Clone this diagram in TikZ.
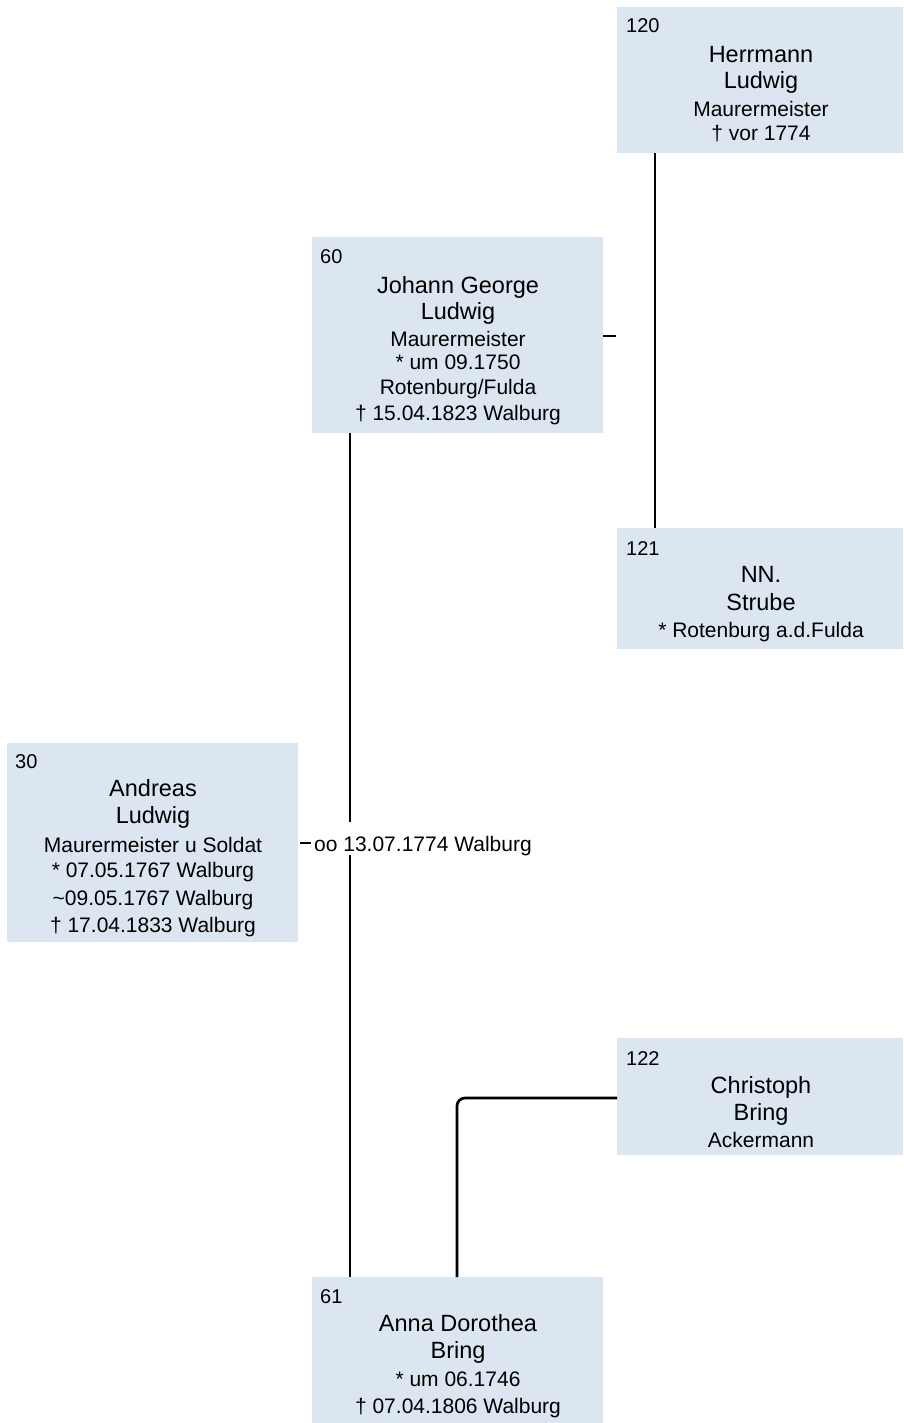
\documentclass[tikz,border=0pt]{standalone}
\usepackage{fontspec}
\setmainfont{Liberation Sans}
\definecolor{boxfill}{HTML}{DCE6F1}
\begin{document}
\begin{tikzpicture}[x=1pt,y=-1pt,
  pbox/.style={fill=boxfill,draw=none,inner sep=0pt,anchor=north west},
  nm/.style={font=\fontsize{23.5pt}{28pt}\selectfont,anchor=base,inner sep=0pt},
  dt/.style={font=\fontsize{21pt}{25pt}\selectfont,anchor=base,inner sep=0pt},
  nr/.style={font=\fontsize{20pt}{24pt}\selectfont,anchor=base west,inner sep=0pt},
  conn/.style={draw=black,line width=2.7pt}]
\useasboundingbox (0,0) rectangle (903,1423);

% boxes
\node[pbox,minimum width=286pt,minimum height=146pt] (b120) at (617,7) {};
\node[pbox,minimum width=291pt,minimum height=196pt] (b60) at (312,237) {};
\node[pbox,minimum width=286pt,minimum height=121pt] (b121) at (617,528) {};
\node[pbox,minimum width=291pt,minimum height=199pt] (b30) at (7,743) {};
\node[pbox,minimum width=286pt,minimum height=117pt] (b122) at (617,1038) {};
\node[pbox,minimum width=291pt,minimum height=146pt] (b61) at (312,1277) {};

% 120
\node[nr] (n120) at (626,33) {120};
\node[nm] (t120a) at (761,63) {Herrmann};
\node[nm] (t120b) at (761,89) {Ludwig};
\node[dt] (t120c) at (761,117) {Maurermeister};
\node[dt] (t120d) at (761,141) {† vor 1774};

% 60
\node[nr] (n60) at (320,263) {60};
\node[nm] (t60a) at (458,293) {Johann George};
\node[nm] (t60b) at (458,319) {Ludwig};
\node[dt] (t60c) at (458,346) {Maurermeister};
\node[dt] (t60d) at (458,369) {* um 09.1750};
\node[dt] (t60e) at (458,394) {Rotenburg/Fulda};
\node[dt] (t60f) at (458,420) {† 15.04.1823 Walburg};

% 121
\node[nr] (n121) at (626,555) {121};
\node[nm] (t121a) at (761,582) {NN.};
\node[nm] (t121b) at (761,610) {Strube};
\node[dt] (t121c) at (761,637) {* Rotenburg a.d.Fulda};

% 30
\node[nr] (n30) at (15,768) {30};
\node[nm] (t30a) at (153,796) {Andreas};
\node[nm] (t30b) at (153,823) {Ludwig};
\node[dt] (t30c) at (153,852) {Maurermeister u Soldat};
\node[dt] (t30d) at (153,877) {* 07.05.1767 Walburg};
\node[dt] (t30e) at (153,905) {\textasciitilde 09.05.1767 Walburg};
\node[dt] (t30f) at (153,932) {† 17.04.1833 Walburg};

% 122
\node[nr] (n122) at (626,1065) {122};
\node[nm] (t122a) at (761,1093) {Christoph};
\node[nm] (t122b) at (761,1120) {Bring};
\node[dt] (t122c) at (761,1147) {Ackermann};

% 61
\node[nr] (n61) at (320,1303) {61};
\node[nm] (t61a) at (458,1331) {Anna Dorothea};
\node[nm] (t61b) at (458,1358) {Bring};
\node[dt] (t61c) at (458,1386) {* um 06.1746};
\node[dt] (t61d) at (458,1413) {† 07.04.1806 Walburg};

% marriage label
\node[dt,anchor=base west] (marr) at (314,851) {oo 13.07.1774 Walburg};

% helper coordinates
\coordinate (xA) at (655,0);
\coordinate (xB) at (350,0);
\coordinate (xC) at (457,0);
\coordinate (d60) at (616,336);
\coordinate (m1) at (350,822);
\coordinate (m2) at (350,855);
\coordinate (d30) at (311,843);

% connectors
\draw[conn] (b120.south -| xA) -- (b121.north -| xA);
\draw[conn] (b60.east |- d60) -- (d60);
\draw[conn] (b60.south -| xB) -- (m1);
\draw[conn] (m2) -- (b61.north -| xB);
\draw[conn,shorten <=2pt] (b30.east |- d30) -- (d30);
\draw[conn,rounded corners=8pt] (b122.west |- 0,1098) -| (b61.north -| xC);
\end{tikzpicture}
\end{document}
